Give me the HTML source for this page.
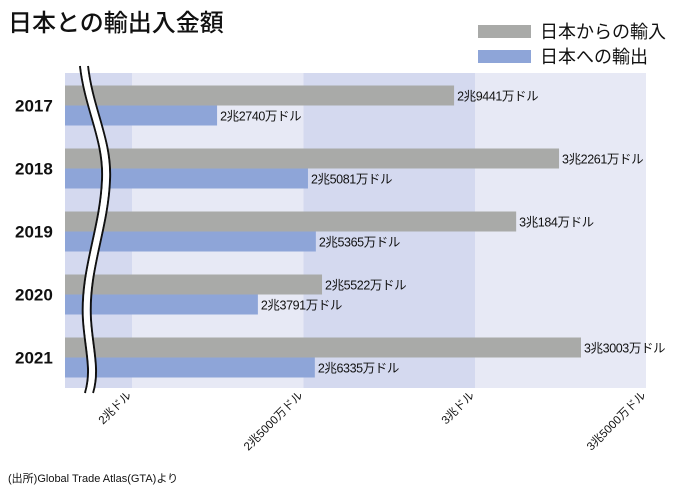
<!DOCTYPE html>
<html><head><meta charset="utf-8">
<style>
body{margin:0;background:#fff;}
svg text{font-family:"Liberation Sans","Noto Sans CJK JP",sans-serif;}
</style></head>
<body>
<svg width="700" height="492" viewBox="0 0 700 492" xmlns="http://www.w3.org/2000/svg">
<text x="8" y="31" font-size="24" font-weight="500" fill="#111">日本との輸出入金額</text>
<g>
<rect x="478" y="25" width="53" height="13" fill="#a9aaa8"/>
<text x="540" y="38" font-size="18" fill="#111">日本からの輸入</text>
<rect x="478" y="50" width="53" height="13" fill="#8ea5d8"/>
<text x="540" y="63" font-size="18" fill="#111">日本への輸出</text>
</g>
<g id="bands"></g>
<g id="bars"></g>
<g id="labels"></g>
<g>
<path d="M80,66 C85,110 104,140 102,180 C100,230 80,270 83,320 C85,350 92,370 85,393" fill="none" stroke="#111" stroke-width="2"/>
<path d="M88,66 C93,110 112,140 110,180 C108,230 88,270 91,320 C93,350 100,370 93,393" fill="none" stroke="#111" stroke-width="2"/>
<path d="M84,66 C89,110 108,140 106,180 C104,230 84,270 87,320 C89,350 96,370 89,393" fill="none" stroke="#fff" stroke-width="6"/>
</g>
<g id="xticks"></g>
<text x="8" y="482" font-size="11" fill="#111">(出所)Global Trade Atlas(GTA)より</text>
</svg>
<script>
const years=["2017","2018","2019","2020","2021"];
const imports=[2.939,3.245,3.120,2.554,3.309];
const exports=[2.248,2.513,2.536,2.367,2.533];
const importLabels=["2兆9441万ドル","3兆2261万ドル","3兆184万ドル","2兆5522万ドル","3兆3003万ドル"];
const exportLabels=["2兆2740万ドル","2兆5081万ドル","2兆5365万ドル","2兆3791万ドル","2兆6335万ドル"];
const tickVals=[2,2.5,3,3.5];
const tickLabels=["2兆ドル","2兆5000万ドル","3兆ドル","3兆5000万ドル"];
const NS="http://www.w3.org/2000/svg";
const L=65,T=73,B=388,R=646;
const xs=v=>132+(v-2)*343;
const rowH=(B-T)/years.length;
const yc=i=>T+1+rowH*(i+0.5);
function mk(tag,attrs,parent,text){const e=document.createElementNS(NS,tag);for(const k in attrs)e.setAttribute(k,attrs[k]);if(text!==undefined)e.textContent=text;document.getElementById(parent).appendChild(e);return e;}
const bandEdges=[L,xs(2),xs(2.5),xs(3),R];
const bandCols=["#d4d9ef","#e7e9f5","#d4d9ef","#e7e9f5"];
for(let i=0;i<4;i++){
 const r=mk('rect',{x:bandEdges[i],y:T,width:bandEdges[i+1]-bandEdges[i],height:B-T,fill:bandCols[i]},'bands');
 
 
}
years.forEach((y,i)=>{
 const c=yc(i);
 const g=mk('rect',{x:L,y:c-20,width:xs(imports[i])-L,height:20,fill:"#a9aaa8"},'bars');
 
 
 const b=mk('rect',{x:L,y:c,width:xs(exports[i])-L,height:20,fill:"#8ea5d8"},'bars');
 
 
 const t1=mk('text',{x:xs(imports[i])+3,y:c-5,'font-size':12.5,'letter-spacing':'-0.4',fill:"#111"},'labels',importLabels[i]);
 
 
 const t2=mk('text',{x:xs(exports[i])+3,y:c+15,'font-size':12.5,'letter-spacing':'-0.4',fill:"#111"},'labels',exportLabels[i]);
 
 
 const yl=mk('text',{x:15,y:c+6,'font-size':17,'font-weight':'bold',fill:"#111"},'labels',y);
 
 
});
tickVals.forEach((v,i)=>{
 const x=xs(v);
 const t=mk('text',{x:x,y:396,'font-size':11.5,fill:"#111",'text-anchor':'end',transform:`rotate(-45 ${x} 396)`},'xticks',tickLabels[i]);
 
 
});
</script>
</body></html>
